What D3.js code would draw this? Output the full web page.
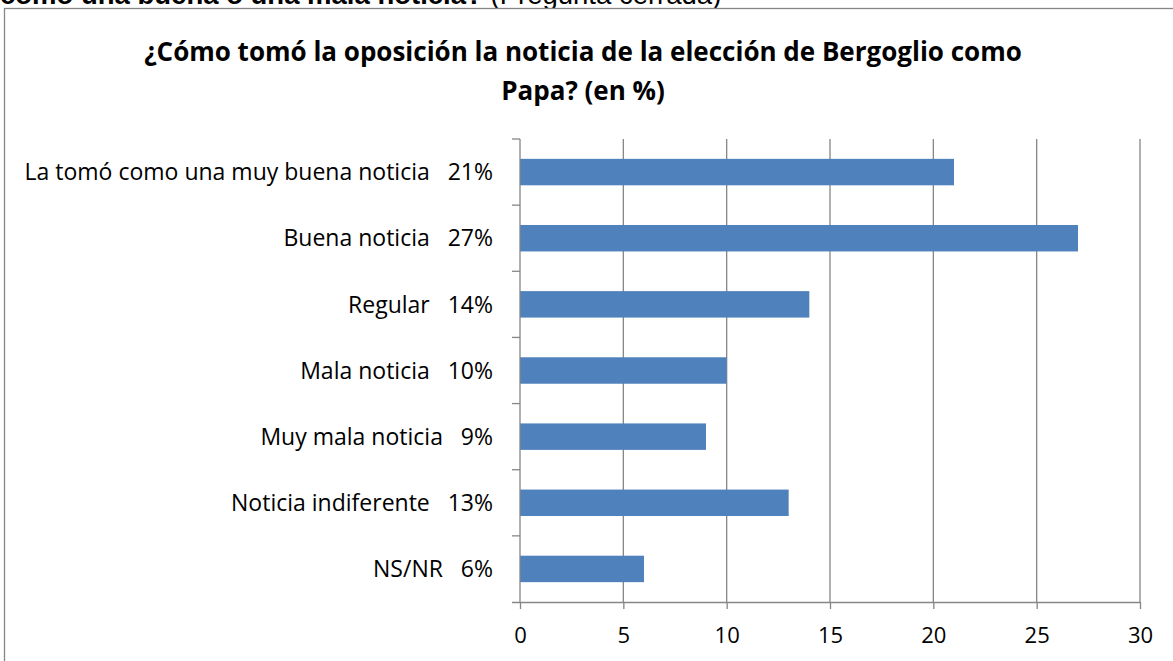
<!DOCTYPE html>
<html lang="es">

<head>
    <meta charset="UTF-8">
    <title>Bergoglio</title>
    <script src="https://unpkg.com/d3@7.8.5/dist/d3.min.js"></script>
    <style>
        * {
            margin: 0;
            padding: 0;
        }

        body {
            background: #fff;
            overflow: hidden;
        }

        svg {
            display: block;
        }

        text {
            white-space: pre;
        }
    </style>
</head>

<body>
    <svg class="cc"></svg>
    <script>
        // datos
        const categories = [
            'La tomó como una muy buena noticia',
            'Buena noticia',
            'Regular',
            'Mala noticia',
            'Muy mala noticia',
            'Noticia indiferente',
            'NS/NR'
        ]
        const values = [21, 27, 14, 10, 9, 13, 6]
        const pctLabels = ['21%', '27%', '14%', '10%', '9%', '13%', '6%']
        const xTicks = [0, 5, 10, 15, 20, 25, 30]
        const titleLines = [
            '¿Cómo tomó la oposición la noticia de la elección de Bergoglio como',
            'Papa? (en %)'
        ]

        const W = 1173, H = 661
        const font = "'Open Sans', 'Noto Sans', sans-serif"
        const plot = { left: 520, right: 1140, top: 139, bottom: 602 }

        const svg = d3.select('svg').attr('width', W).attr('height', H)

        // texto cortado arriba (pregunta del documento)
        const head = svg.append('text')
            .attr('x', 0)
            .attr('y', 4)
            .attr('font-family', "'Liberation Sans', Arial, sans-serif")
            .attr('font-size', 27.5)
            .attr('fill', '#000')
        head.append('tspan').attr('font-weight', 'bold').text('como una buena o una mala noticia?')
        head.append('tspan').text(' (Pregunta cerrada)')

        // marco del grafico
        svg.append('rect')
            .attr('x', 4.5)
            .attr('y', 8.5)
            .attr('width', 1180)
            .attr('height', 700)
            .attr('fill', '#fff')
            .attr('stroke', '#868686')
            .attr('stroke-width', 1.3)

        // titulo
        svg.append('g')
            .selectAll('text')
            .data(titleLines)
            .join('text')
            .attr('x', 583)
            .attr('y', (d, i) => 61 + i * 39)
            .attr('text-anchor', 'middle')
            .attr('font-family', font)
            .attr('font-weight', 'bold')
            .attr('font-size', 26)
            .attr('fill', '#000')
            .text(d => d)

        const x = d3.scaleLinear().domain([0, 30]).range([plot.left, plot.right])
        const y = d3.scaleBand()
            .domain(categories)
            .range([plot.top, plot.bottom])
            .paddingInner(0.6)
            .paddingOuter(0.3)

        // lineas de cuadricula
        svg.append('g')
            .selectAll('line')
            .data(xTicks.slice(1))
            .join('line')
            .attr('x1', d => x(d))
            .attr('x2', d => x(d))
            .attr('y1', plot.top)
            .attr('y2', plot.bottom)
            .attr('stroke', '#868686')
            .attr('stroke-width', 1.3)

        // barras
        svg.append('g')
            .selectAll('rect')
            .data(values)
            .join('rect')
            .attr('x', x(0))
            .attr('y', (d, i) => y(categories[i]))
            .attr('width', d => x(d) - x(0))
            .attr('height', y.bandwidth())
            .attr('fill', '#4F81BD')

        // eje x
        const xAxis = svg.append('g')
            .attr('transform', `translate(0,${plot.bottom})`)
            .call(d3.axisBottom(x).tickValues(xTicks).tickSize(7).tickPadding(18))
        xAxis.select('.domain').attr('d', `M${plot.left - 8},0.5H${plot.right}`)
        xAxis.selectAll('.domain, line').attr('stroke', '#868686').attr('stroke-width', 1.3)
        xAxis.selectAll('text')
            .attr('font-family', font)
            .attr('font-size', 22)
            .attr('fill', '#000')

        // eje y: marcas en los limites de cada banda
        const step = y.step()
        const bounds = d3.range(categories.length + 1).map(i => plot.top + i * step)
        svg.append('line')
            .attr('x1', plot.left).attr('x2', plot.left)
            .attr('y1', plot.top).attr('y2', plot.bottom)
            .attr('stroke', '#868686').attr('stroke-width', 1.3)
        svg.append('g')
            .selectAll('line')
            .data(bounds.slice(0, -1))
            .join('line')
            .attr('x1', plot.left - 8).attr('x2', plot.left)
            .attr('y1', d => d).attr('y2', d => d)
            .attr('stroke', '#868686').attr('stroke-width', 1.3)

        // etiquetas de categoria
        svg.append('g')
            .selectAll('text')
            .data(categories)
            .join('text')
            .attr('x', 493)
            .attr('y', d => y(d) + y.bandwidth() / 2)
            .attr('dy', '0.36em')
            .attr('text-anchor', 'end')
            .attr('font-family', font)
            .attr('font-size', 23)
            .attr('fill', '#000')
            .text((d, i) => d + '   ' + pctLabels[i])
    </script>
</body>

</html>
